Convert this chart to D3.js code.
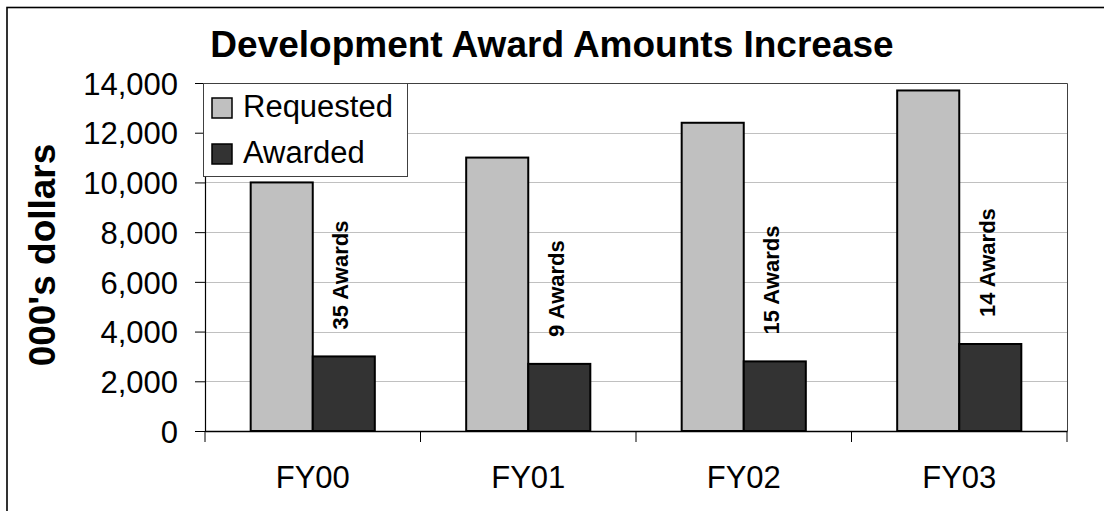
<!DOCTYPE html>
<html>
<head>
<meta charset="utf-8">
<script src="https://cdn.jsdelivr.net/npm/d3@7"></script>
<style>
  body { margin: 0; background: #fff; }
  text { font-family: "Liberation Sans", Arial, sans-serif; fill: #000; }
</style>
</head>
<body>
<svg id="chart"></svg>
<script>
// chart data
const years = ["FY00", "FY01", "FY02", "FY03"];
const requested = [10000, 11000, 12400, 13700];
const awarded = [3000, 2700, 2800, 3500];
const awardCounts = [35, 9, 15, 14];
const seriesNames = ["Requested", "Awarded"];
const seriesColors = ["#c0c0c0", "#333333"];
const yTicks = [0, 2000, 4000, 6000, 8000, 10000, 12000, 14000];

const width = 1104;
const height = 511;
const plot = { left: 205, right: 1067, top: 83, bottom: 431 };

let svg = d3.select('#chart')
	.attr('width', width)
	.attr('height', height);

// outer frame (cut off at right and bottom like the source)
svg.append('rect')
	.attr('x', 7).attr('y', 7.5)
	.attr('width', width + 20).attr('height', height + 20)
	.attr('fill', 'none')
	.attr('stroke', '#000')
	.attr('stroke-width', 1.6);

let x = d3.scaleBand()
	.domain(years)
	.range([plot.left, plot.right])
	.padding(0);

let y = d3.scaleLinear()
	.domain([0, 14000])
	.range([plot.bottom, plot.top]);

let barW = x.bandwidth() * 0.288;
let offset = (x.bandwidth() - 2 * barW) / 2;

// gridlines
svg.append('g')
	.selectAll('line')
	.data(yTicks.filter(d => d > 0 && d < 14000))
	.enter()
	.append('line')
	.attr('x1', plot.left).attr('x2', plot.right)
	.attr('y1', d => Math.round(y(d)) + 0.5)
	.attr('y2', d => Math.round(y(d)) + 0.5)
	.attr('stroke', '#c0c0c0')
	.attr('stroke-width', 1);

// plot area border (top / right)
svg.append('path')
	.attr('d', `M${plot.left},${plot.top + 0.5}H${plot.right + 0.5}V${plot.bottom}`)
	.attr('fill', 'none')
	.attr('stroke', '#404040')
	.attr('stroke-width', 1);

// bars
let rows = years.map((yr, i) => ({ year: yr, vals: [requested[i], awarded[i]], count: awardCounts[i] }));

let groups = svg.append('g')
	.selectAll('g')
	.data(rows)
	.enter()
	.append('g')
	.attr('transform', d => `translate(${x(d.year) + offset},0)`);

groups.selectAll('rect')
	.data(d => d.vals)
	.enter()
	.append('rect')
	.attr('x', (d, i) => i * barW)
	.attr('y', d => y(d))
	.attr('width', barW)
	.attr('height', d => y(0) - y(d))
	.attr('fill', (d, i) => seriesColors[i])
	.attr('stroke', '#000')
	.attr('stroke-width', 2);

// award count labels, rotated above the awarded bar
groups.append('text')
	.attr('transform', d => `translate(${barW * 1.5 - 3},${y(d.vals[1]) - 27}) rotate(-90)`)
	.attr('dy', '0.35em')
	.attr('text-anchor', 'start')
	.style('font-size', '22px')
	.style('font-weight', 'bold')
	.text(d => d.count + ' Awards');

// y axis
let yAxis = svg.append('g')
	.attr('transform', `translate(${plot.left},0)`)
	.call(d3.axisLeft(y).tickValues(yTicks).tickFormat(d3.format(',')).tickSize(10).tickPadding(17));
yAxis.select('.domain').attr('stroke', '#000').attr('stroke-width', 1.2);
yAxis.selectAll('.tick line').attr('stroke', '#000');
yAxis.selectAll('text').style('font-size', '31px').attr('dy', '0.36em');

// x axis
let xAxis = svg.append('g')
	.attr('transform', `translate(0,${plot.bottom})`)
	.call(d3.axisBottom(x).tickSize(0).tickPadding(35));
xAxis.select('.domain').attr('stroke', '#000').attr('stroke-width', 1.5);
xAxis.selectAll('text').style('font-size', '31px');
xAxis.selectAll('.sep')
	.data(d3.range(years.length + 1))
	.enter()
	.append('line')
	.attr('class', 'sep')
	.attr('x1', i => plot.left + i * x.bandwidth())
	.attr('x2', i => plot.left + i * x.bandwidth())
	.attr('y1', 0).attr('y2', 11)
	.attr('stroke', '#000');

// titles
svg.append('text')
	.attr('x', width / 2)
	.attr('y', 57)
	.attr('text-anchor', 'middle')
	.style('font-size', '37px')
	.style('font-weight', 'bold')
	.text('Development Award Amounts Increase');

svg.append('text')
	.attr('transform', `translate(55,255) rotate(-90)`)
	.attr('text-anchor', 'middle')
	.style('font-size', '37px')
	.style('font-weight', 'bold')
	.text("000's dollars");

// legend
let legend = svg.append('g').attr('transform', 'translate(203,83)');
legend.append('rect')
	.attr('x', 0.5).attr('y', 0.5)
	.attr('width', 204).attr('height', 93)
	.attr('fill', '#fff')
	.attr('stroke', '#404040');

let item = legend.selectAll('.item')
	.data(seriesNames)
	.enter()
	.append('g')
	.attr('class', 'item')
	.attr('transform', (d, i) => `translate(9,${15 + i * 46})`);

item.append('rect')
	.attr('width', 20).attr('height', 20)
	.attr('fill', (d, i) => seriesColors[i])
	.attr('stroke', '#000')
	.attr('stroke-width', 1.5);

item.append('text')
	.attr('x', 31)
	.attr('y', 19)
	.style('font-size', '31px')
	.text(d => d);
</script>
</body>
</html>
